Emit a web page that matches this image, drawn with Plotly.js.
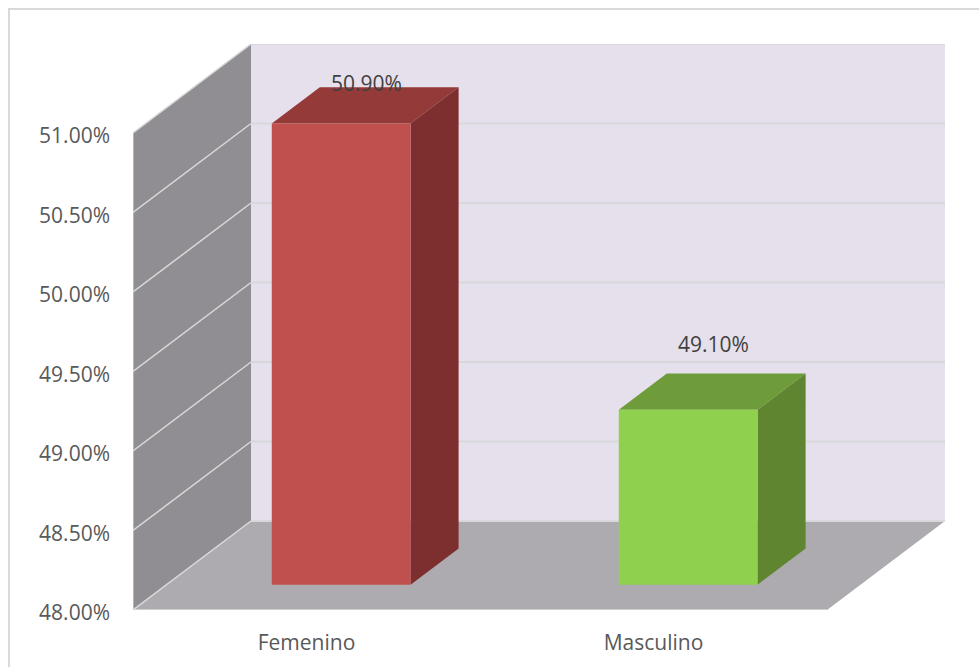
<!DOCTYPE html>
<html>
<head>
<meta charset="utf-8">
<script src="https://cdn.plot.ly/plotly-3.0.1.min.js"></script>
<style>html,body{margin:0;padding:0;background:#fff;overflow:hidden}#chart{width:979px;height:667px}</style>
</head>
<body>
<div id="chart"></div>
<script>
// Survey share by sex, drawn as oblique 3D columns on a linear plot.
const categories = ['Femenino', 'Masculino'];
const values = [50.9, 49.1];
const axisTicks = [48, 48.5, 49, 49.5, 50, 50.5, 51];

const frontColors = ['#c0504d', '#8fd14f'];
const topColors = ['#943a39', '#6f9c3b'];
const sideColors = ['#7c2f2e', '#5f8531'];
const labelLift = [22, 48];

// Oblique projection: depth d (0 front, 1 back) shifts a point right and up.
const DEPTH_X = 118 / 347;
const DEPTH_Y = 89 / 159;
const project = (x, y, d) => [x + d * DEPTH_X, y + d * DEPTH_Y];

const BASE = axisTicks[0];
const TOP = axisTicks[axisTicks.length - 1];
const CATS = categories.length;
const BAR_HALF = 0.2;
const BAR_CENTER = 0.503;
const BAR_D0 = 0.285;
const BAR_D1 = 0.692;

function poly(points, color, line) {
  const pts = points.concat([points[0]]);
  return {
    type: 'scatter', mode: 'lines', hoverinfo: 'skip', showlegend: false,
    x: pts.map(p => p[0]), y: pts.map(p => p[1]),
    fill: 'toself', fillcolor: color,
    line: line || {width: 0, color: color}
  };
}
function segs(points, color, width) {
  return {
    type: 'scatter', mode: 'lines', hoverinfo: 'skip', showlegend: false,
    x: points.map(p => p[0]), y: points.map(p => p[1]),
    line: {color: color, width: width}
  };
}

const traces = [];
// Walls and floor
traces.push(poly([project(0, BASE, 1), project(CATS, BASE, 1), project(CATS, TOP, 1), project(0, TOP, 1)], '#e6e0ec'));
traces.push(poly([project(0, BASE, 0), project(0, BASE, 1), project(0, TOP, 1), project(0, TOP, 0)], '#918e93'));
traces.push(poly([project(0, BASE, 0), project(CATS, BASE, 0), project(CATS, BASE, 1), project(0, BASE, 1)], '#aeabb0'));

// Gridlines run across the side wall and the back wall
axisTicks.forEach(t => {
  traces.push(segs([project(0, t, 0), project(0, t, 1)], '#d9d9d9', 1.5));
  traces.push(segs([project(0, t, 1), project(CATS, t, 1)], '#d8d7d9', 2));
});
traces.push(segs([project(0, BASE, 0), project(0, TOP, 0)], '#d9d9d9', 1));
traces.push(segs([project(0, BASE, 0), project(CATS, BASE, 0)], '#d9d9d9', 1.5));

// Columns: front, top and side faces
values.forEach((v, i) => {
  const xl = i + BAR_CENTER - BAR_HALF, xr = i + BAR_CENTER + BAR_HALF;
  traces.push(poly([project(xl, v, BAR_D0), project(xr, v, BAR_D0), project(xr, v, BAR_D1), project(xl, v, BAR_D1)], topColors[i]));
  traces.push(poly([project(xr, BASE, BAR_D0), project(xr, BASE, BAR_D1), project(xr, v, BAR_D1), project(xr, v, BAR_D0)], sideColors[i]));
  traces.push(poly([project(xl, BASE, BAR_D0), project(xr, BASE, BAR_D0), project(xr, v, BAR_D0), project(xl, v, BAR_D0)], frontColors[i]));
});

const annotations = values.map((v, i) => {
  const p = project(i + BAR_CENTER, v, (BAR_D0 + BAR_D1) / 2);
  return {
    x: p[0], y: p[1], xref: 'x', yref: 'y',
    text: v.toFixed(2) + '%', showarrow: false,
    xshift: 1, yshift: labelLift[i], font: {family: 'Open Sans', size: 21, color: '#404040'}
  };
});

const W = 979, H = 667, L = 133, R = 945, T = 44, B = 610;
const px = x => (x - L) / (R - L);
const py = y => (B - y) / (B - T);
const frameLine = {color: '#d9d9d9', width: 2};

const layout = {
  width: W, height: H,
  margin: {l: L, r: W - R, t: T, b: H - B, pad: 0},
  paper_bgcolor: '#ffffff', plot_bgcolor: 'rgba(0,0,0,0)',
  showlegend: false,
  hovermode: false,
  font: {family: 'Open Sans', size: 21, color: '#595959'},
  xaxis: {
    type: 'linear', range: [0, (R - L) / 347], fixedrange: true,
    showgrid: false, zeroline: false, showline: false, ticks: '',
    tickmode: 'array', tickvals: categories.map((c, i) => i + 0.5), ticktext: categories,
    ticklabelstandoff: 18
  },
  yaxis: {
    type: 'linear', range: [BASE, BASE + (B - T) / 159], fixedrange: true,
    showgrid: false, zeroline: false, showline: false, ticks: '',
    tickmode: 'array', tickvals: axisTicks,
    ticktext: axisTicks.map(t => t.toFixed(2) + '%'),
    ticklabelstandoff: 22, ticklabelshift: 3
  },
  annotations: annotations,
  shapes: [
    {type: 'line', xref: 'paper', yref: 'paper', x0: px(8), x1: px(W), y0: py(9), y1: py(9), line: frameLine},
    {type: 'line', xref: 'paper', yref: 'paper', x0: px(9), x1: px(9), y0: py(8), y1: py(H), line: frameLine}
  ]
};

Plotly.newPlot('chart', traces, layout, {displayModeBar: false, staticPlot: true});
</script>
</body>
</html>
